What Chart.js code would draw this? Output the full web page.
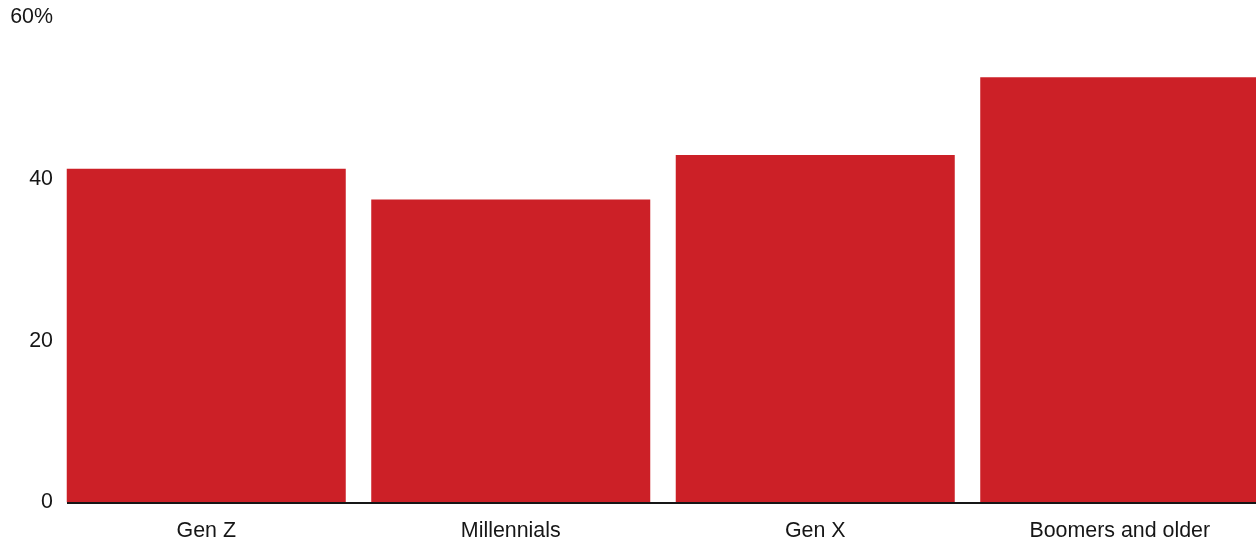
<!DOCTYPE html>
<html>
<head>
<meta charset="utf-8">
<script src="https://cdn.jsdelivr.net/npm/chart.js@4/dist/chart.umd.min.js"></script>
<style>
  html, body { margin: 0; padding: 0; background: #fff; overflow: hidden; }
  #wrap { position: relative; width: 1272px; height: 542px; }
</style>
</head>
<body>
<div id="wrap"><canvas id="chart"></canvas></div>
<script>
const generations = ['Gen Z', 'Millennials', 'Gen X', 'Boomers and older'];
const shares = [41.3, 37.5, 43.0, 52.6];
const yTicks = [0, 20, 40, 60];

const barRed = '#cc2027';
const ink = '#161616';

// linha do zero, começa na borda da primeira barra
const baseline = {
  id: 'baseline',
  afterDatasetsDraw(chart) {
    const y = Math.floor(chart.scales.y.getPixelForValue(0));
    const first = chart.getDatasetMeta(0).data[0];
    const x0 = Math.round(first.x - first.width / 2);
    const ctx = chart.ctx;
    ctx.save();
    ctx.fillStyle = ink;
    ctx.fillRect(x0, y, chart.chartArea.right - x0, 2);
    ctx.restore();
  }
};

new Chart(document.getElementById('chart'), {
  type: 'bar',
  data: {
    labels: generations,
    datasets: [{
      data: shares,
      backgroundColor: barRed,
      borderWidth: 0,
      categoryPercentage: 1,
      barPercentage: 0.9163
    }]
  },
  options: {
    responsive: true,
    maintainAspectRatio: false,
    animation: false,
    layout: { padding: { top: 17.5, left: 0, right: 0, bottom: 0 } },
    plugins: { legend: { display: false }, tooltip: { enabled: false } },
    scales: {
      x: {
        grid: { display: false, drawTicks: false },
        border: { display: false },
        ticks: {
          color: ink,
          padding: 16,
          maxRotation: 0,
          font: { family: 'Liberation Sans, Arial, sans-serif', size: 21.4 }
        },
        afterFit(scale) { scale.height = 39.5; }
      },
      y: {
        min: 0,
        max: 60,
        afterBuildTicks(scale) { scale.ticks = yTicks.map(v => ({ value: v })); },
        grid: { display: false, drawTicks: false },
        border: { display: false },
        ticks: {
          color: ink,
          padding: 1,
          font: { family: 'Liberation Sans, Arial, sans-serif', size: 21.4 },
          callback: v => v === 60 ? v + '%' : v
        },
        afterFit(scale) { scale.width = 54; }
      }
    }
  },
  plugins: [baseline]
});
</script>
</body>
</html>
